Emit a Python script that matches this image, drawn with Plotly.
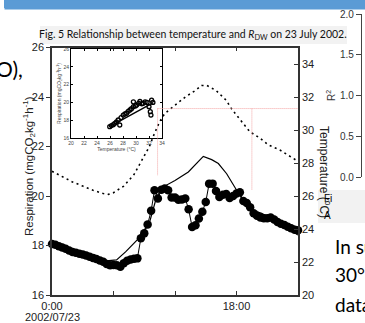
import plotly.graph_objects as go

W, H = 365, 323

# ---- main chart data (hours since 0:00, 2002/07/23) ----
resp_hours = [0.00, 0.33, 0.67, 1.00, 1.33, 1.67, 2.00, 2.33, 2.67, 3.00, 3.33, 3.67,
              4.00, 4.33, 4.67, 5.00, 5.33, 5.67, 6.00, 6.33, 6.67, 7.00, 7.33, 7.67,
              8.00, 8.33, 8.67, 9.00, 9.33, 9.67, 10.00, 10.33, 10.67, 11.00, 11.33, 11.67,
              12.00, 12.33, 12.67, 13.00, 13.33, 13.67, 14.00, 14.33, 14.67, 15.00, 15.33, 15.67,
              16.00, 16.33, 16.67, 17.00, 17.33, 17.67, 18.00, 18.33, 18.67, 19.00, 19.33, 19.67,
              20.00, 20.33, 20.67, 21.00, 21.33, 21.67, 22.00, 22.33, 22.67, 23.00, 23.33, 23.67,
              24.00]
resp_observed = [18.06, 18.03, 17.97, 17.92, 17.87, 17.80, 17.74, 17.71, 17.67, 17.64, 17.60, 17.55,
                 17.50, 17.45, 17.39, 17.34, 17.25, 17.20, 17.21, 17.20, 17.14, 17.28, 17.38, 17.43,
                 17.46, 17.48, 18.29, 18.49, 18.85, 19.40, 20.23, 19.90, 20.25, 20.30, 20.23, 19.94,
                 19.94, 19.85, 19.86, 19.90, 19.46, 18.75, 18.82, 19.09, 19.36, 19.76, 20.50, 20.50,
                 20.20, 19.96, 20.05, 20.08, 19.92, 20.00, 20.10, 20.15, 19.80, 19.72, 19.55, 19.30,
                 19.20, 19.13, 19.10, 19.10, 19.13, 19.05, 18.95, 18.88, 18.83, 18.76, 18.70, 18.64,
                 18.62]

model_hours = [0.0, 1.3, 2.6, 3.9, 5.3, 6.3, 7.2, 8.6, 9.56, 10.2, 10.86, 12.0, 13.3,
               14.27, 14.76, 15.58, 16.23, 17.04, 17.85, 18.5, 19.48, 20.46, 21.76, 22.73, 23.71, 24.0]
model_resp = [18.05, 17.88, 17.70, 17.55, 17.38, 17.42, 17.75, 18.35, 19.00, 19.96, 20.37, 20.63, 20.97,
              21.37, 21.60, 21.47, 21.31, 20.90, 20.37, 19.90, 19.43, 19.30, 19.00, 18.75, 18.50, 18.42]

temp_hours = [0, 1, 2, 3, 4, 5, 5.5, 6, 7, 8, 9, 9.5, 10, 10.5, 11, 12, 13, 14, 14.6, 15.1,
              16, 17, 17.5, 18, 18.5, 19.3, 20.3, 21.1, 22.2, 24]
temp_air = [27.5, 27.15, 26.85, 26.6, 26.35, 26.15, 26.1, 26.2, 26.6, 27.3, 28.4, 29.0, 29.8, 30.5,
            31.0, 31.5, 32.0, 32.4, 32.7, 32.7, 32.4, 31.8, 31.3, 30.9, 30.5, 29.9, 29.5, 29.1, 28.8, 28.1]

x_label_vals = [0, 18]
x_label_text = ["0:00", "18:00"]
x_minor_vals = [6, 12, 24]
date_label = "2002/07/23"
left_ticks = [16, 18, 20, 22, 24, 26]
right_ticks = [20, 22, 24, 26, 28, 30, 32, 34]

# red guide lines (hour, temperature)
guide_temp = 31.3
guide_start_hour = 10.3
guide_drop_hours = [10.3, 19.5]
guide_drop_resp = [20.84, 20.23]

# ---- inset: respiration vs temperature ----
inset_temp = [25.96, 26.22, 26.5, 26.74, 27.0, 27.26, 27.5, 27.7, 28.04, 28.3, 28.55, 28.8, 29.07, 29.3,
              29.6, 29.6, 29.9, 30.1, 30.4, 30.6, 30.9, 31.1, 31.4, 31.7, 32.0, 32.2, 32.3, 32.4, 32.6]
inset_resp = [17.27, 17.4, 17.5, 17.65, 17.8, 18.02, 17.46, 18.3, 18.58, 18.7, 18.78, 19.0, 19.15, 19.3,
              19.52, 20.07, 19.6, 19.7, 19.9, 20.1, 19.85, 19.9, 20.05, 20.0, 19.52, 18.96, 18.58, 20.25, 20.0]
inset_fit_temp = [26.0, 32.6]
inset_fit_resp = [17.3, 19.95]

r2_ticks = [0.0, 0.5, 1.0, 1.5, 2.0]


def px_x(p):
    return p / W


def px_y(p):
    return 1 - p / H


AX = "#333333"
SANS = "Liberation Sans, Arial, sans-serif"
TF = dict(family=SANS, size=11, color="#222222")
HAND = "Lato, sans-serif"

fig = go.Figure()

fig.add_trace(go.Scatter(x=temp_hours, y=temp_air, yaxis="y2", mode="lines",
                         line=dict(color="black", width=1.6, dash="2px,3.5px"),
                         showlegend=False, hoverinfo="skip"))
fig.add_trace(go.Scatter(x=model_hours, y=model_resp, mode="lines",
                         line=dict(color="black", width=1.2), showlegend=False))
fig.add_trace(go.Scatter(x=resp_hours, y=resp_observed, mode="lines+markers",
                         line=dict(color="black", width=1),
                         marker=dict(size=8.5, color="black"), cliponaxis=False,
                         showlegend=False))

# inset
fig.add_trace(go.Scatter(x=inset_temp, y=inset_resp, xaxis="x3", yaxis="y3", mode="markers",
                         marker=dict(size=4, color="black", symbol="circle-open",
                                     line=dict(color="black", width=1.3)),
                         showlegend=False))
fig.add_trace(go.Scatter(x=inset_fit_temp, y=inset_fit_resp, xaxis="x3", yaxis="y3", mode="lines",
                         line=dict(color="black", width=1.4), showlegend=False))

# R^2 panel (only its axis is visible in the crop)
fig.add_trace(go.Scatter(x=[], y=[], xaxis="x4", yaxis="y4", mode="markers", showlegend=False))

shapes = [
    # slide header bar
    dict(type="rect", xref="paper", yref="paper", x0=px_x(4), x1=1.0, y0=px_y(8), y1=1.0,
         fillcolor="#5b9bd5", line=dict(width=0), layer="above"),
    dict(type="rect", xref="paper", yref="paper", x0=px_x(40), x1=px_x(347), y0=px_y(44), y1=px_y(26),
         fillcolor="#f2f2f2", line=dict(width=0), layer="below"),
    dict(type="rect", xref="paper", yref="paper", x0=px_x(318), x1=1.0, y0=px_y(223), y1=px_y(190),
         fillcolor="#f2f2f2", line=dict(width=0), layer="below"),
    dict(type="line", xref="x", yref="y2", x0=guide_start_hour, x1=24, y0=guide_temp, y1=guide_temp,
         line=dict(color="#f4a3a3", width=1, dash="1px,1px")),
]
for h, r in zip(guide_drop_hours, guide_drop_resp):
    shapes.append(dict(type="line", xref="x", yref="y2", x0=h, x1=h, y0=guide_temp,
                       y1=20 + (r - 16) * 1.5,
                       line=dict(color="#f4a3a3", width=1, dash="1px,1px")))


def note(text, x, y, font, xanchor="center", textangle=0):
    return dict(text=text, xref="paper", yref="paper", x=px_x(x), y=px_y(y), showarrow=False,
                xanchor=xanchor, yanchor="middle", textangle=textangle, font=font)


annotations = [
    # header bar again as a filled empty text box, in case the shape layer is hidden
    dict(text=" ", xref="paper", yref="paper", x=px_x(4), y=1.0, xanchor="left", yanchor="top",
         showarrow=False, width=361, height=8, borderpad=0, bgcolor="#5b9bd5",
         font=dict(size=1, color="#5b9bd5")),
    note("Fig. 5 Relationship between temperature and <i>R</i><sub>DW</sub> on 23 July 2002.", 193, 35,
         dict(family=HAND, size=10.5, color="#111111")),
    note("Respiration (mgCO<sub>2</sub>kg<sup>-1</sup>h<sup>-1</sup>)", 29, 166,
         dict(family=SANS, size=11.5, color="#222222"), textangle=-90),
    note("Temperature (<sup>o</sup>C)", 325, 172,
         dict(family=SANS, size=12, color="#222222"), textangle=90),
    note(date_label, 52, 317, TF),
    note("O),", -6, 68, dict(family=HAND, size=21, color="black"), xanchor="left"),
    note("Fi", 322, 198, dict(family=SANS, size=10, color="black"), xanchor="left"),
    note("A", 322, 215, dict(family=SANS, size=10, color="black"), xanchor="left"),
    note("In su", 333, 247, dict(family=HAND, size=19, color="black"), xanchor="left"),
    note("30°", 333, 274, dict(family=HAND, size=19, color="black"), xanchor="left"),
    note("data", 333, 304, dict(family=HAND, size=19, color="black"), xanchor="left"),
]

inset_font = dict(family=SANS, size=5, color="#444")

fig.update_layout(
    width=W, height=H, autosize=False,
    margin=dict(l=0, r=0, t=0, b=0, pad=0, autoexpand=False),
    paper_bgcolor="white", plot_bgcolor="rgba(0,0,0,0)",
    showlegend=False,
    shapes=shapes, annotations=annotations,
    xaxis=dict(domain=[px_x(52), px_x(298)], range=[0, 24], tickvals=x_label_vals, ticktext=x_label_text,
               ticks="inside", ticklen=4, tickcolor=AX,
               minor=dict(tickvals=x_minor_vals, ticks="inside", ticklen=4, tickcolor=AX, showgrid=False),
               showline=True, linecolor=AX, linewidth=1.5,
               mirror="ticks", showgrid=False, zeroline=False, tickfont=TF, anchor="y",
               automargin=False),
    yaxis=dict(domain=[px_y(295), px_y(47.5)], range=[16, 26], tickvals=left_ticks,
               ticks="outside", ticklen=4, tickcolor=AX, showline=True, linecolor=AX, linewidth=1.5,
               showgrid=False, zeroline=False, tickfont=TF, automargin=False),
    yaxis2=dict(overlaying="y", side="right", range=[20, 35], tickvals=right_ticks,
                ticks="inside", ticklen=4, tickcolor=AX, showline=True, linecolor=AX, linewidth=1.5,
                showgrid=False, zeroline=False, tickfont=TF, anchor="x", automargin=False),
    xaxis3=dict(domain=[px_x(71), px_x(162)], anchor="y3", range=[20, 34], dtick=2,
                ticks="inside", ticklen=2, tickcolor="black", showline=True, linecolor="black",
                linewidth=1, mirror="ticks", showgrid=False, zeroline=False, automargin=False,
                tickfont=inset_font,
                title=dict(text="Temperature (°C)", font=inset_font, standoff=1)),
    yaxis3=dict(domain=[px_y(138), px_y(49)], anchor="x3", range=[16, 26], dtick=2,
                ticks="inside", ticklen=2, tickcolor="black", showline=True, linecolor="black",
                linewidth=1, mirror="ticks", showgrid=False, zeroline=False, automargin=False,
                tickfont=inset_font,
                title=dict(text="Respiration (mgCO<sub>2</sub>kg<sup>-1</sup>h<sup>-1</sup>)",
                           font=inset_font, standoff=1)),
    xaxis4=dict(domain=[px_x(362), 1.0], anchor="y4", range=[0, 1], visible=False, automargin=False),
    yaxis4=dict(domain=[px_y(177), px_y(14)], anchor="x4", range=[0, 2], tickvals=r2_ticks,
                tickformat=".1f", ticks="outside", ticklen=5, tickcolor="#444", showline=True,
                linecolor="#444", linewidth=1.2, showgrid=False, zeroline=False, automargin=False,
                tickfont=dict(family=SANS, size=10, color="#333"),
                title=dict(text="R<sup>2</sup>", font=dict(family=SANS, size=10, color="#333"), standoff=2)),
)

fig.write_html("out.html", config={"displayModeBar": False},
               post_script="document.body.style.margin='0';")
